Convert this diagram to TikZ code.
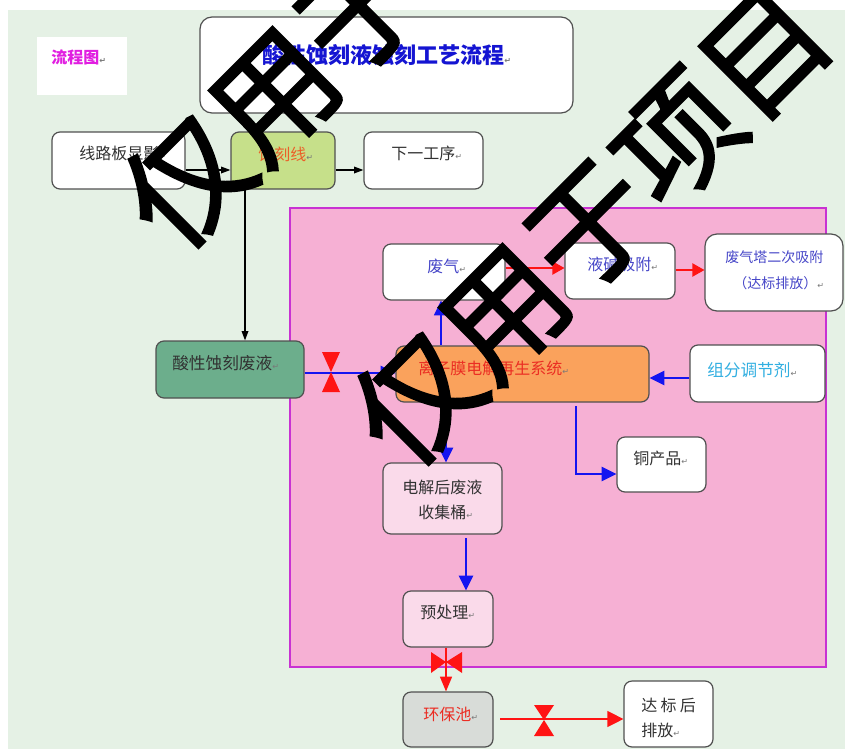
\documentclass[tikz,border=0pt]{standalone}
\usepackage{fontspec}
\setmainfont{Noto Sans CJK SC}
\newfontfamily\symf{DejaVu Sans}
\newfontfamily\wmf[FakeBold=2]{Noto Sans CJK SC}
\usetikzlibrary{fit,arrows.meta}
\definecolor{bggreen}{RGB}{229,241,229}
\definecolor{pinkbg}{RGB}{246,176,212}
\definecolor{pinkline}{RGB}{200,50,210}
\definecolor{boxline}{RGB}{80,80,80}
\definecolor{skgreen}{RGB}{198,224,138}
\definecolor{sxgreen}{RGB}{108,174,140}
\definecolor{orangebox}{RGB}{250,162,92}
\definecolor{lpink}{RGB}{250,218,234}
\definecolor{lgray}{RGB}{216,220,216}
\definecolor{tdark}{RGB}{50,50,50}
\definecolor{tblue}{RGB}{70,70,200}
\definecolor{ttitle}{RGB}{20,20,210}
\definecolor{tmag}{RGB}{225,30,225}
\definecolor{torange}{RGB}{235,95,40}
\definecolor{tred}{RGB}{235,45,35}
\definecolor{tcyan}{RGB}{50,175,225}
\definecolor{ablue}{RGB}{20,20,240}
\definecolor{ared}{RGB}{255,20,20}
\definecolor{retgray}{RGB}{120,120,120}
\newcommand\retm{{\symf\fontsize{6}{6}\selectfont\textcolor{retgray}{↵}}}
\tikzset{
  x=0.75pt, y=-0.75pt,
  box/.style={draw=boxline, line width=0.9pt, rounded corners=6pt, inner sep=0pt},
  lbl/.style={inner sep=0pt, anchor=west, text=tdark, font=\fontsize{12}{15}\selectfont},
  blk/.style={draw=black, line width=0.9pt, -{Triangle[length=7pt,width=5pt]}},
  blu/.style={draw=ablue, line width=1.5pt, -{Triangle[length=11pt,width=10.5pt]}},
  rd/.style={draw=ared, line width=0.9pt, -{Triangle[length=9pt,width=10pt]}},
  wm/.style={inner sep=0pt, text=black, font=\wmf\fontsize{92}{92}\selectfont, rotate=45}
}
\begin{document}
\begin{tikzpicture}
\useasboundingbox (0,0) rectangle (845,749);
\fill[white] (0,0) rectangle (845,749);
\fill[bggreen] (8,10) rectangle (845,749);

% pink region
\node[fit={(290,208)(826,667)}, inner sep=0pt, fill=pinkbg, draw=pinkline, line width=0.8pt] (pink) {};

% boxes
\node[fit={(37,37)(127,95)}, inner sep=0pt, fill=white] (lct) {};
\node[box, fit={(200,17)(573,113)}, fill=white, rounded corners=9pt] (title) {};
\node[box, fit={(52,132)(185,189)}, fill=white] (xlb) {};
\node[box, fit={(231,132)(335,189)}, fill=skgreen] (skx) {};
\node[box, fit={(364,132)(483,189)}, fill=white] (xyg) {};
\node[box, fit={(383,244)(505,300)}, fill=white] (fq) {};
\node[box, fit={(565,243)(675,299)}, fill=white] (yj) {};
\node[box, fit={(705,234)(843,311)}, fill=white, rounded corners=9pt] (fqt) {};
\node[box, fit={(396,346)(649,402)}, fill=orangebox] (lzm) {};
\node[box, fit={(156,341)(304,398)}, fill=sxgreen] (sx) {};
\node[box, fit={(690,345)(825,402)}, fill=white] (zf) {};
\node[box, fit={(617,437)(706,492)}, fill=white] (tcp) {};
\node[box, fit={(383,463)(502,534)}, fill=lpink] (sjt) {};
\node[box, fit={(403,591)(493,647)}, fill=lpink] (ycl) {};
\node[box, fit={(403,692)(493,747)}, fill=lgray] (hbc) {};
\node[box, fit={(624,681)(713,747)}, fill=white] (dbh) {};

% texts
\node[lbl, text=tmag, font=\bfseries\fontsize{12}{15}\selectfont] (tlct) at (51,57) {流程图\retm};
\node[lbl, text=ttitle, font=\bfseries\fontsize{16.5}{20}\selectfont] (ttitle) at (262,55) {酸性蚀刻液蚀刻工艺流程\retm};
\node[lbl] (txlb) at (79,153) {线路板显影\retm};
\node[lbl, text=torange] (tskx) at (258,154) {蚀刻线\retm};
\node[lbl] (txyg) at (391,153) {下一工序\retm};
\node[lbl, text=tblue] (tfq) at (427,266) {废气\retm};
\node[lbl, text=tblue] (tyj) at (587,264) {液碱吸附\retm};
\node[lbl, text=tblue, font=\fontsize{10.5}{13}\selectfont] (tfqt1) at (725,257) {废气塔二次吸附};
\node[lbl, text=tblue, font=\fontsize{10.5}{13}\selectfont] (tfqt2) at (733,283) {（达标排放）\retm};
\node[lbl, text=tred] (tlzm) at (418,368) {离子膜电解再生系统\retm};
\node[lbl, text=tdark, font=\fontsize{12.5}{15}\selectfont] (tsx) at (172,363) {酸性蚀刻废液\retm};
\node[lbl, text=tcyan, font=\fontsize{12.5}{15}\selectfont] (tzf) at (707,370) {组分调节剂\retm};
\node[lbl] (ttcp) at (633,458) {铜产品\retm};
\node[lbl] (tsjt1) at (402,487) {电解后废液};
\node[lbl] (tsjt2) at (418,512) {收集桶\retm};
\node[lbl] (tycl) at (420,612) {预处理\retm};
\node[lbl, text=tred] (thbc) at (423,714) {环保池\retm};
\node[lbl] (tdbh1) at (641,705) {达\hspace{2.5pt}标\hspace{2.5pt}后};
\node[lbl] (tdbh2) at (641,730) {排放\retm};

% helper coordinates
\coordinate (h170) at (0,170);
\coordinate (v245) at (245,0);
\coordinate (h373) at (0,373);
\coordinate (v441) at (441,0);
\coordinate (h268) at (0,268);
\coordinate (h270) at (0,270);
\coordinate (h378) at (0,378);
\coordinate (c1) at (576,406);
\coordinate (c2) at (576,474);
\coordinate (v446) at (446,0);
\coordinate (c3) at (466,538);
\coordinate (c4) at (500,719);
\coordinate (h719) at (0,719);

% connectors
\draw[blk] (xlb.east |- h170) -- (skx.west |- h170);
\draw[blk] (skx.east |- h170) -- (xyg.west |- h170);
\draw[blk] (skx.south -| v245) -- (sx.north -| v245);
\draw[blu] (sx.east |- h373) -- (lzm.west |- h373);
\draw[blu, line width=1.1pt] (lzm.north -| v441) -- (fq.south -| v441);
\draw[rd] (fq.east |- h268) -- (yj.west |- h268);
\draw[rd] (yj.east |- h270) -- (fqt.west |- h270);
\draw[blu] (zf.west |- h378) -- (lzm.east |- h378);
\draw[blu] (c1) -- (c2) -- (tcp.west |- c2);
\draw[blu] (lzm.south -| v446) -- (sjt.north -| v446);
\draw[blu] (c3) -- (ycl.north -| c3);
\draw[rd, -{Triangle[length=11pt,width=9pt]}] (ycl.south -| v446) -- (hbc.north -| v446);
\draw[rd, -{Triangle[length=12pt,width=12pt]}] (c4) -- (dbh.west |- h719);

% valves
\fill[ared] (322,352) -- (340,352) -- (331,372) -- cycle;
\fill[ared] (322,392) -- (340,392) -- (331,372) -- cycle;
\fill[ared] (431,652) -- (431,673) -- (446,662) -- cycle;
\fill[ared] (462,652) -- (462,673) -- (446,662) -- cycle;
\fill[ared] (534,705) -- (554,705) -- (544,720) -- cycle;
\fill[ared] (534,736) -- (554,736) -- (544,720) -- cycle;

% watermark
\node[wm] (wm0) at (130,-208) {仅用于项目};
\node[wm] (wm1) at (360,8) {仅用于项目};
\node[wm] (wm2) at (590,225) {仅用于项目};
\end{tikzpicture}
\end{document}
